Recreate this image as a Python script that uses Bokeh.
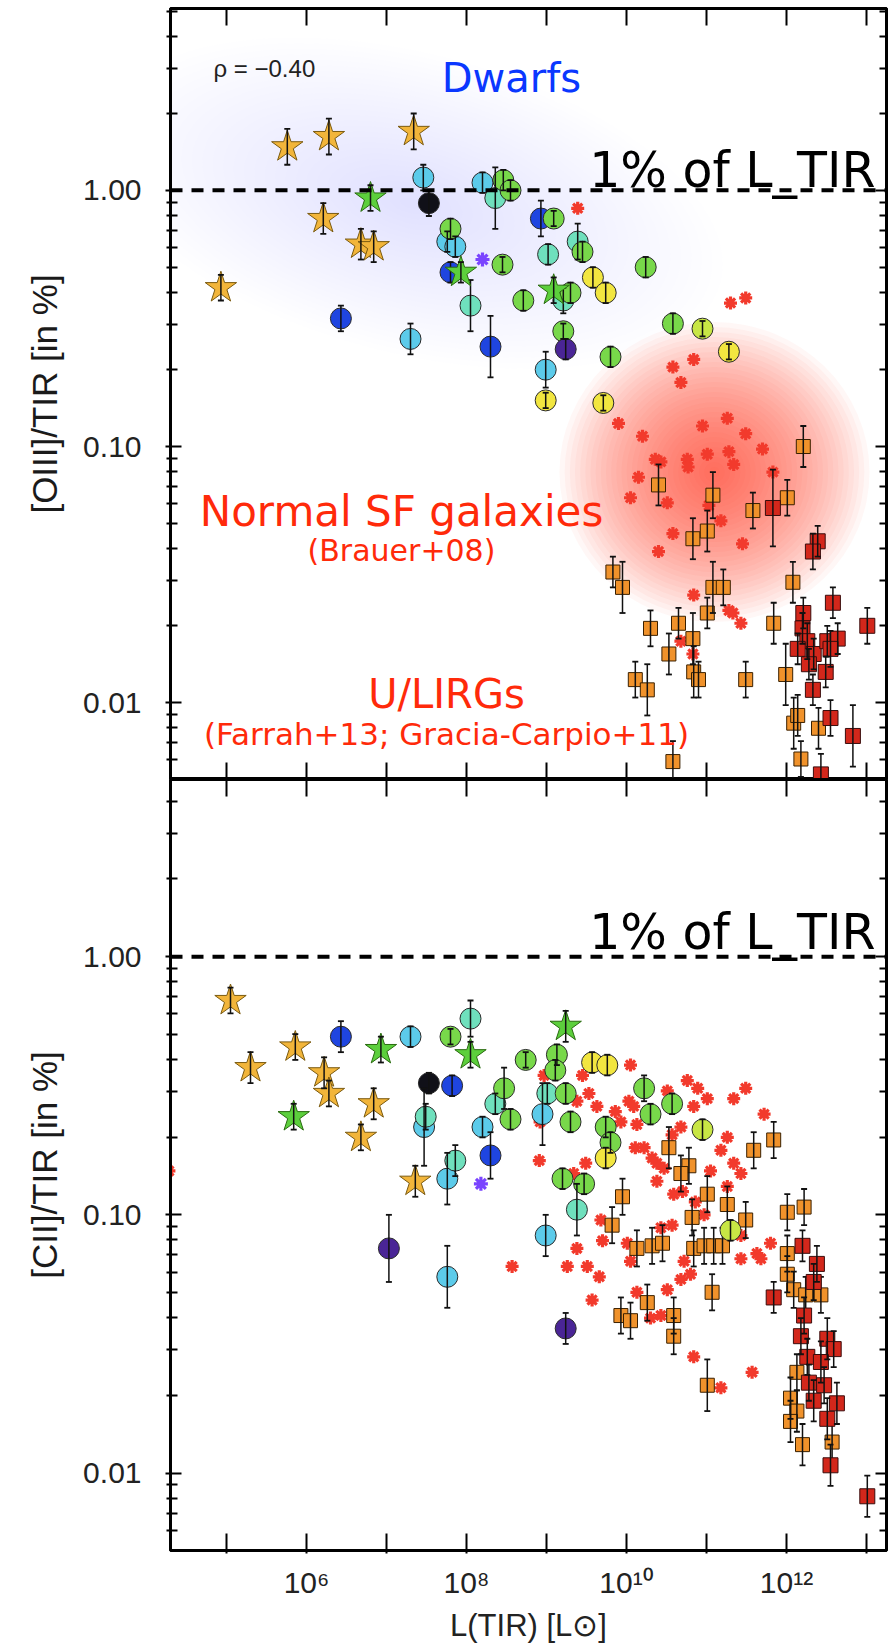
from bokeh.plotting import figure
from bokeh.models import FixedTicker, LogAxis, Label, Span, CustomJSTickFormatter
from bokeh.layouts import column
from bokeh.embed import file_html
from bokeh.resources import INLINE

# ---------------- DATA (log10 values) ----------------
x_tick_exponents = [5, 6, 7, 8, 9, 10, 11, 12, 13]
x_tick_labels = ["", "10⁶", "", "10⁸", "", "10¹⁰", "", "10¹²", ""]
y_tick_values = [0.01, 0.1, 1.0]
y_tick_labels = ["0.01", "0.10", "1.00"]
palette_z = ["#4a2596", "#101018", "#1f45e0", "#5ccbea", "#6fe0bd", "#78d84a", "#c8e645", "#f2e640"]

# ---- top panel: [OIII]/TIR ----
oiii_gold_star_logL = [4.93, 5.76, 6.28, 7.34, 6.21, 6.68, 6.84]
oiii_gold_star_logR = [-0.38, 0.17, 0.21, 0.23, -0.11, -0.21, -0.22]
oiii_gold_star_err = [0.05, 0.07, 0.07, 0.07, 0.06, 0.06, 0.06]
oiii_green_star_logL = [6.80, 7.93, 9.09]
oiii_green_star_logR = [-0.03, -0.32, -0.39]
oiii_green_star_err = [0.05, 0.04, 0.05]
oiii_dgs_logL = [6.43, 8.30, 7.80, 8.93, 7.53, 7.46, 7.30, 7.76, 7.86, 8.20, 8.99, 8.05, 8.36, 9.02, 9.39, 9.21,
                 7.80, 8.45, 8.46, 8.55, 9.09, 8.71, 9.45, 10.24, 9.30, 9.21, 9.80, 10.58, 10.95, 9.58, 9.74,
                 11.28, 9.71, 8.99, 9.24]
oiii_dgs_logR = [-0.50, -0.61, -0.32, -0.11, -0.05, 0.05, -0.58, -0.20, -0.22, 0.03, -0.70, -0.45, -0.03, -0.25,
                 -0.20, -0.43, -0.15, -0.29, 0.04, 0.00, -0.11, -0.43, -0.24, -0.30, -0.40, -0.55, -0.65, -0.52,
                 -0.54, -0.34, -0.40, -0.63, -0.83, -0.82, -0.62]
oiii_dgs_zclass = [2, 2, 2, 2, 1, 3, 3, 3, 3, 3, 3, 4, 4, 4, 4, 4, 5, 5, 5, 5, 5, 5, 5, 5, 5, 5, 5, 5, 6, 7, 7,
                   7, 7, 7, 0]
oiii_dgs_err = [0.05, 0.12, 0.04, 0.07, 0.05, 0.05, 0.06, 0.04, 0.04, 0.04, 0.07, 0.10, 0.12, 0.04, 0.07, 0.05,
                0.04, 0.03, 0.04, 0.04, 0.03, 0.04, 0.04, 0.04, 0.04, 0.03, 0.04, 0.04, 0.03, 0.04, 0.04, 0.03,
                0.03, 0.03, 0.04]
oiii_purple_ast_logL = [8.20]
oiii_purple_ast_logR = [-0.27]
oiii_brauer_logL = [9.39, 11.30, 11.49, 10.84, 10.58, 10.68, 9.90, 10.20, 10.95, 11.26, 11.49, 11.70, 10.43,
                    10.36, 10.76, 10.77, 11.01, 11.28, 11.34, 11.83, 10.15, 10.05, 10.51, 11.03, 11.18, 10.58,
                    10.40, 11.45, 10.84, 11.28, 11.33, 11.43, 10.68, 10.83]
oiii_brauer_logR = [-0.07, -0.44, -0.42, -0.66, -0.69, -0.75, -0.91, -0.96, -0.92, -0.89, -0.95, -1.01, -1.06,
                    -1.05, -1.05, -1.08, -1.03, -1.02, -1.07, -1.10, -1.12, -1.20, -1.22, -1.23, -1.29, -1.34,
                    -1.41, -1.38, -1.58, -1.64, -1.65, -1.69, -1.76, -1.81]
oiii_farrah_logL = [12.21, 10.40, 11.08, 12.01, 11.58, 10.83, 11.01, 9.83, 9.95, 11.08, 11.21, 12.08, 11.01,
                    10.30, 10.65, 10.83, 10.53, 11.84, 10.84, 10.90, 10.11, 10.26, 11.49, 11.99, 10.58, 12.09,
                    12.14, 12.40, 12.18]
oiii_farrah_logR = [-1.00, -1.15, -1.19, -1.20, -1.25, -1.36, -1.33, -1.49, -1.55, -1.55, -1.55, -1.53, -1.65,
                    -1.71, -1.69, -1.75, -1.81, -1.69, -1.88, -1.91, -1.91, -1.95, -1.91, -1.89, -2.23, -2.08,
                    -2.05, -2.10, -2.22]
oiii_farrah_err = [0.08, 0.08, 0.09, 0.07, 0.07, 0.08, 0.08, 0.06, 0.10, 0.10, 0.07, 0.08, 0.06, 0.07, 0.06,
                   0.10, 0.08, 0.08, 0.10, 0.07, 0.07, 0.10, 0.07, 0.12, 0.08, 0.10, 0.08, 0.08, 0.07]
oiii_gracia_logL = [11.83, 12.39, 12.33, 12.58, 13.01, 12.21, 12.20, 12.26, 12.14, 12.34, 12.28, 12.51, 12.64,
                    12.55, 12.49, 12.33, 12.55, 12.83, 12.43]
oiii_gracia_logR = [-1.24, -1.37, -1.41, -1.61, -1.70, -1.65, -1.71, -1.76, -1.79, -1.81, -1.85, -1.76, -1.75,
                    -1.79, -1.88, -1.95, -2.06, -2.13, -2.28]
oiii_gracia_err = [0.15, 0.06, 0.07, 0.06, 0.07, 0.06, 0.06, 0.07, 0.06, 0.06, 0.06, 0.06, 0.06, 0.07, 0.06,
                   0.06, 0.07, 0.12, 0.08]

# ---- bottom panel: [CII]/TIR ----
cii_gold_star_logL = [5.05, 5.86, 5.30, 6.22, 6.28, 6.84, 6.68, 7.36]
cii_gold_star_logR = [-0.17, -0.35, -0.43, -0.45, -0.53, -0.57, -0.70, -0.87]
cii_gold_star_err = [0.05, 0.05, 0.06, 0.06, 0.05, 0.06, 0.05, 0.06]
cii_green_star_logL = [5.84, 6.93, 8.05, 9.24]
cii_green_star_logR = [-0.62, -0.36, -0.38, -0.27]
cii_green_star_err = [0.05, 0.05, 0.05, 0.06]
cii_dgs_logL = [6.43, 7.82, 8.30, 7.53, 7.30, 7.47, 7.76, 7.76, 8.99, 8.95, 8.20, 8.05, 7.49, 8.36, 7.86, 9.01,
                9.38, 7.80, 8.74, 8.47, 8.55, 9.13, 9.11, 9.24, 9.30, 10.22, 10.57, 10.30, 9.74, 9.80, 9.20,
                9.47, 10.95, 11.30, 9.57, 9.76, 9.74, 7.03, 9.24]
cii_dgs_logR = [-0.31, -0.50, -0.77, -0.49, -0.31, -0.66, -0.86, -1.24, -1.08, -0.61, -0.66, -0.24, -0.62, -0.57,
                -0.79, -0.53, -0.98, -0.31, -0.40, -0.51, -0.63, -0.38, -0.44, -0.53, -0.64, -0.51, -0.57, -0.61,
                -0.66, -0.72, -0.86, -0.88, -0.67, -1.06, -0.41, -0.42, -0.78, -1.13, -1.44]
cii_dgs_zclass = [2, 2, 2, 1, 3, 3, 3, 3, 3, 3, 3, 4, 4, 4, 4, 4, 4, 5, 5, 5, 5, 5, 5, 5, 5, 5, 5, 5, 5, 5, 5,
                  5, 6, 6, 7, 7, 7, 0, 0]
cii_dgs_err = [0.06, 0.04, 0.09, 0.04, 0.04, 0.15, 0.10, 0.12, 0.08, 0.12, 0.04, 0.07, 0.05, 0.04, 0.06, 0.04,
               0.10, 0.03, 0.03, 0.08, 0.04, 0.04, 0.04, 0.04, 0.04, 0.05, 0.04, 0.04, 0.04, 0.04, 0.04, 0.04,
               0.04, 0.04, 0.04, 0.04, 0.04, 0.13, 0.06]
cii_purple_ast_logL = [8.18]
cii_purple_ast_logR = [-0.88]
cii_brauer_logL = [4.28, 10.05, 9.45, 9.53, 9.63, 9.86, 9.38, 10.03, 10.09, 9.93, 10.13, 10.76, 10.89, 11.01,
                   10.51, 10.68, 10.57, 10.84, 11.34, 11.49, 11.72, 11.26, 11.18, 10.11, 10.22, 10.38, 10.47,
                   11.05, 11.34, 11.43, 10.38, 10.59, 10.70, 10.86, 10.97, 11.26, 9.49, 9.34, 8.91, 8.97, 10.32,
                   9.68, 10.43, 10.57, 11.43, 11.80, 9.38, 10.01, 11.63, 8.57, 9.26, 9.51, 9.66, 9.57, 9.70,
                   10.13, 10.51, 10.68, 10.80, 10.30, 10.43, 10.84, 11.18, 11.57, 11.43, 11.68, 10.05, 10.72,
                   8.92]
cii_brauer_logR = [-0.83, -0.42, -0.46, -0.53, -0.58, -0.60, -0.56, -0.56, -0.58, -0.64, -0.65, -0.48, -0.51,
                   -0.55, -0.52, -0.66, -0.69, -0.58, -0.55, -0.51, -0.61, -0.70, -0.75, -0.74, -0.74, -0.80,
                   -0.82, -0.83, -0.80, -0.84, -0.87, -0.92, -0.91, -0.95, -1.00, -0.89, -0.80, -0.84, -0.79,
                   -0.46, -0.78, -1.02, -1.05, -1.04, -1.08, -1.11, -1.13, -1.11, -1.15, -1.20, -1.20, -1.20,
                   -1.24, -1.33, -1.10, -1.30, -1.29, -1.25, -1.23, -1.40, -1.39, -1.55, -1.67, -1.61, -1.17,
                   -1.17, -1.18, -1.18, -0.64]
cii_farrah_logL = [11.84, 11.59, 10.53, 10.78, 10.68, 9.95, 11.01, 11.26, 10.82, 9.82, 11.49, 12.01, 12.22, 10.13,
                   10.32, 10.45, 10.84, 10.97, 11.09, 11.20, 12.01, 11.07, 9.93, 10.05, 10.26, 10.59, 10.59,
                   11.01, 12.01, 12.09, 12.24, 12.43, 12.13, 12.05, 12.13, 12.05, 12.20, 12.57]
cii_farrah_logR = [-0.71, -0.75, -0.74, -0.81, -0.84, -0.93, -0.92, -0.96, -1.01, -1.04, -1.02, -0.99, -0.97,
                   -1.13, -1.12, -1.11, -1.13, -1.12, -1.12, -1.12, -1.15, -1.30, -1.39, -1.41, -1.34, -1.39,
                   -1.47, -1.66, -1.23, -1.29, -1.31, -1.31, -1.61, -1.71, -1.76, -1.80, -1.89, -1.88]
cii_farrah_err = [0.07, 0.07, 0.08, 0.07, 0.07, 0.07, 0.07, 0.07, 0.07, 0.07, 0.07, 0.07, 0.07, 0.07, 0.07,
                  0.07, 0.07, 0.07, 0.07, 0.07, 0.07, 0.07, 0.07, 0.07, 0.07, 0.07, 0.07, 0.10, 0.07, 0.07,
                  0.07, 0.07, 0.07, 0.08, 0.08, 0.08, 0.08, 0.08]
cii_gracia_logL = [12.20, 12.38, 12.34, 11.84, 12.22, 12.18, 12.51, 12.59, 12.26, 12.43, 12.28, 12.47, 12.34,
                   12.63, 12.51, 12.55, 13.01]
cii_gracia_logR = [-1.12, -1.19, -1.26, -1.32, -1.39, -1.47, -1.48, -1.52, -1.55, -1.57, -1.65, -1.66, -1.72,
                   -1.73, -1.79, -1.97, -2.09]
cii_gracia_err = [0.06, 0.07, 0.07, 0.06, 0.07, 0.07, 0.08, 0.07, 0.07, 0.08, 0.07, 0.07, 0.08, 0.08, 0.08,
                  0.08, 0.08]

# ---------------- LAYOUT / STYLE ----------------
X_LOG = (4.30, 13.25)
FRAME_W = 716
FRAME_H = 771
ANNOT_FONT = "DejaVu Sans"
AXIS_FONT = "Liberation Sans"


def lin(vals):
    return [10 ** v for v in vals]


def errbars(p, lx, ly, le):
    xs = lin(lx)
    lo = [10 ** (y - e) for y, e in zip(ly, le)]
    hi = [10 ** (y + e) for y, e in zip(ly, le)]
    p.segment(x0=xs, y0=lo, x1=xs, y1=hi, line_color="#111111", line_width=1.5)
    p.scatter(xs + xs, lo + hi, marker="dash", size=6, line_color="#111111", line_width=1.8)


def glow(p, lx, ly, w, h, angle, color, alpha, n=30):
    for i in range(n):
        f = 1.0 - i / n
        p.ellipse(x=[10 ** lx], y=[10 ** ly], width=w * f, height=h * f, width_units="screen",
                  height_units="screen", angle=angle, fill_color=color, fill_alpha=alpha, line_color=None)


def blank_labels(ax):
    ax.formatter = CustomJSTickFormatter(code="return ' ';")
    ax.major_label_text_font_size = "2px"
    ax.major_label_text_alpha = 0.0
    ax.major_label_standoff = 0


def make_panel(ylog, top_b, bot_b, labels_x, ylabel):
    p = figure(x_axis_type="log", y_axis_type="log",
               x_range=(10 ** X_LOG[0], 10 ** X_LOG[1]), y_range=(10 ** ylog[0], 10 ** ylog[1]),
               frame_width=FRAME_W, frame_height=FRAME_H,
               min_border_left=170, min_border_right=3, min_border_top=top_b, min_border_bottom=bot_b,
               toolbar_location=None, output_backend="svg")
    p.grid.visible = False
    p.outline_line_color = "black"
    p.outline_line_width = 3
    p.background_fill_color = "white"
    p.border_fill_color = "white"

    below = p.below[0]
    left = p.left[0]

    xt = FixedTicker(ticks=[10.0 ** e for e in x_tick_exponents], minor_ticks=[])
    minors = [m * 10.0 ** d for d in (-3, -2, -1, 0) for m in range(2, 10)]
    yt = FixedTicker(ticks=y_tick_values, minor_ticks=minors)
    xover = {10.0 ** e: lab for e, lab in zip(x_tick_exponents, x_tick_labels)}
    yover = {v: lab for v, lab in zip(y_tick_values, y_tick_labels)}

    above = LogAxis()
    right = LogAxis()
    p.add_layout(above, "above")
    p.add_layout(right, "right")

    for ax in [below, above]:
        ax.ticker = xt
        ax.major_tick_in = 17
        ax.major_tick_out = 0
        ax.minor_tick_in = 0
        ax.minor_tick_out = 0
    for ax in [left, right]:
        ax.ticker = yt
        ax.major_tick_in = 11
        ax.major_tick_out = 5
        ax.minor_tick_in = 7
        ax.minor_tick_out = 4
    for ax in [below, above, left, right]:
        ax.axis_line_width = 3
        ax.major_tick_line_width = 2
        ax.minor_tick_line_width = 2
        ax.major_tick_line_color = "black"
        ax.minor_tick_line_color = "black"
    blank_labels(above)
    blank_labels(right)
    right.major_tick_out = 0
    right.minor_tick_out = 0

    if labels_x:
        below.major_tick_out = 3
        below.major_label_overrides = xover
        below.major_label_text_font = AXIS_FONT
        below.major_label_text_font_size = "30px"
        below.major_label_text_color = "#222222"
        below.major_label_standoff = 12
        below.axis_label = "L(TIR) [L⊙]"
        below.axis_label_text_font = AXIS_FONT
        below.axis_label_text_font_size = "31px"
        below.axis_label_text_font_style = "normal"
        below.axis_label_text_color = "#222222"
        below.axis_label_standoff = 6
    else:
        blank_labels(below)

    left.major_label_overrides = yover
    left.major_label_text_font = AXIS_FONT
    left.major_label_text_font_size = "30px"
    left.major_label_text_color = "#222222"
    left.major_label_standoff = 24
    left.axis_label = ylabel
    left.axis_label_text_font = AXIS_FONT
    left.axis_label_text_font_size = "35px"
    left.axis_label_text_font_style = "normal"
    left.axis_label_text_color = "#1a1a1a"
    left.axis_label_standoff = 16
    return p


def draw_panel(p, gold, green, dgs, past, brauer, farrah, gracia):
    p.scatter(lin(brauer[0]), lin(brauer[1]), marker="asterisk", size=13, line_color="#f23a2c", line_width=3.2)
    p.scatter(lin(farrah[0]), lin(farrah[1]), marker="square", size=14, fill_color="#f0922b",
              line_color="#3a2000", line_width=1)
    errbars(p, farrah[0], farrah[1], farrah[2])
    p.scatter(lin(gracia[0]), lin(gracia[1]), marker="square", size=15, fill_color="#d3271b",
              line_color="#3a0d0d", line_width=1)
    errbars(p, gracia[0], gracia[1], gracia[2])
    p.scatter(lin(past[0]), lin(past[1]), marker="asterisk", size=14, line_color="#7a44ff", line_width=3.2)
    p.scatter(lin(dgs[0]), lin(dgs[1]), marker="circle", size=21,
              fill_color=[palette_z[z] for z in dgs[2]], line_color="#2a2a2a", line_width=1)
    errbars(p, dgs[0], dgs[1], dgs[3])
    p.scatter(lin(gold[0]), lin(gold[1]), marker="star", size=33, fill_color="#f2b53a",
              line_color="#7a5a10", line_width=1)
    errbars(p, gold[0], gold[1], gold[2])
    p.scatter(lin(green[0]), lin(green[1]), marker="star", size=33, fill_color="#5ccf3c",
              line_color="#2a6a10", line_width=1)
    errbars(p, green[0], green[1], green[2])


def add_text(p, text, sx, sy, size, color, align="left", font=ANNOT_FONT):
    p.add_layout(Label(x=sx, y=sy, x_units="screen", y_units="screen", text=text, text_font=font,
                       text_font_size=size, text_color=color, text_align=align, text_baseline="alphabetic"))


# ---------------- TOP PANEL ----------------
p1 = make_panel((-2.30, 0.71), 8, 0, False, "[OIII]/TIR [in %]")
glow(p1, 7.30, -0.05, 640, 300, -0.25, "#bcc2ff", 0.013)
glow(p1, 11.10, -1.10, 310, 300, 0.0, "#ff3b28", 0.045)
draw_panel(p1,
           (oiii_gold_star_logL, oiii_gold_star_logR, oiii_gold_star_err),
           (oiii_green_star_logL, oiii_green_star_logR, oiii_green_star_err),
           (oiii_dgs_logL, oiii_dgs_logR, oiii_dgs_zclass, oiii_dgs_err),
           (oiii_purple_ast_logL, oiii_purple_ast_logR),
           (oiii_brauer_logL, oiii_brauer_logR),
           (oiii_farrah_logL, oiii_farrah_logR, oiii_farrah_err),
           (oiii_gracia_logL, oiii_gracia_logR, oiii_gracia_err))
p1.add_layout(Span(location=1.0, dimension="width", line_color="black", line_width=4, line_dash="12 9"))
add_text(p1, "ρ  =  −0.40", 43, 711, "24px", "#222222", font=AXIS_FONT)
add_text(p1, "Dwarfs", 341, 702, "40px", "#0a37ff", align="center")
add_text(p1, "1% of L_TIR", 705, 609, "49px", "black", align="right")
add_text(p1, "Normal SF galaxies", 231, 268, "42px", "#ff2a0a", align="center")
add_text(p1, "(Brauer+08)", 231, 229, "30px", "#ff2a0a", align="center")
add_text(p1, "U/LIRGs", 276, 86, "40px", "#ff2a0a", align="center")
add_text(p1, "(Farrah+13; Gracia-Carpio+11)", 276, 46, "31px", "#ff2a0a", align="center")

# ---------------- BOTTOM PANEL ----------------
p2 = make_panel((-2.30, 0.686), 0, 93, True, "[CII]/TIR [in %]")
draw_panel(p2,
           (cii_gold_star_logL, cii_gold_star_logR, cii_gold_star_err),
           (cii_green_star_logL, cii_green_star_logR, cii_green_star_err),
           (cii_dgs_logL, cii_dgs_logR, cii_dgs_zclass, cii_dgs_err),
           (cii_purple_ast_logL, cii_purple_ast_logR),
           (cii_brauer_logL, cii_brauer_logR),
           (cii_farrah_logL, cii_farrah_logR, cii_farrah_err),
           (cii_gracia_logL, cii_gracia_logR, cii_gracia_err))
p2.add_layout(Span(location=1.0, dimension="width", line_color="black", line_width=4, line_dash="12 9"))
add_text(p2, "1% of L_TIR", 705, 618, "49px", "black", align="right")

layout = column(p1, p2, spacing=0)
open("out.html", "w").write(file_html(layout, INLINE))
